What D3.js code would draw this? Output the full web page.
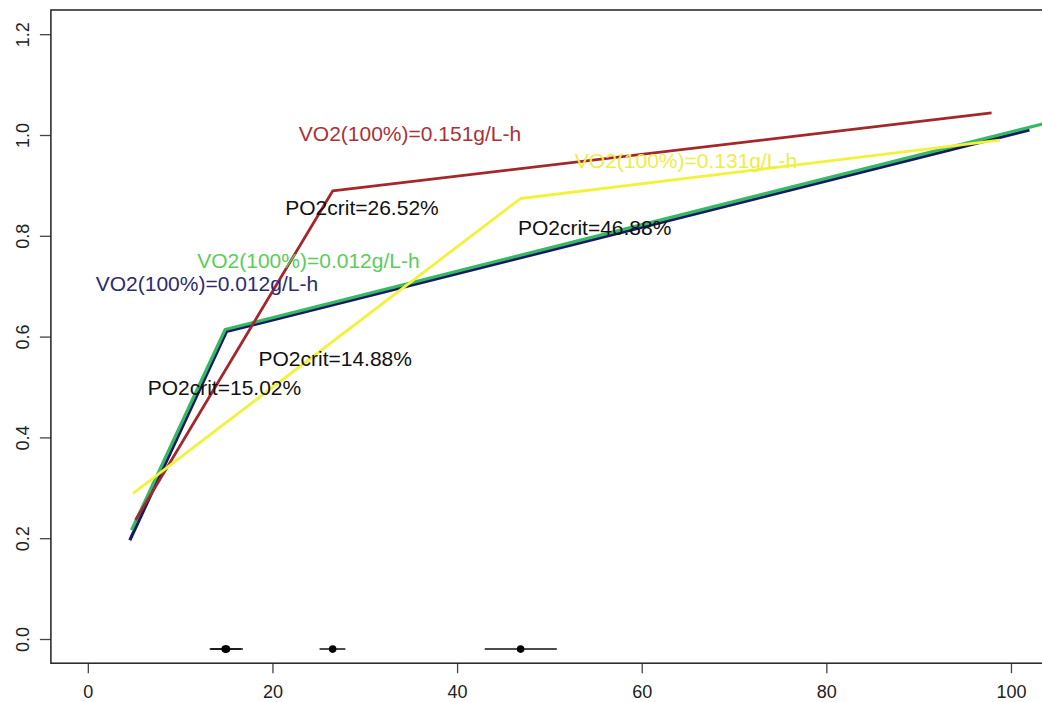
<!DOCTYPE html>
<html>
<head>
<meta charset="utf-8">
<script src="https://cdn.jsdelivr.net/npm/d3@7"></script>
<style>
  html, body { margin: 0; padding: 0; background: #fff; }
  svg { display: block; font-family: "Liberation Sans", Arial, sans-serif; }
</style>
</head>
<body>
<div id="chart"></div>
<script>
// broken-stick fits: start, breakpoint (PO2crit), end
const seriesNames = ["navy", "green", "brown", "yellow"];
const seriesX = [
    [4.55, 15.02, 102.0],
    [4.73, 14.88, 104.5],
    [5.17, 26.52, 97.9],
    [4.91, 46.88, 98.8]
];
const seriesY = [
    [0.196, 0.610, 1.010],
    [0.216, 0.614, 1.027],
    [0.236, 0.889, 1.044],
    [0.289, 0.874, 0.990]
];

// PO2crit estimates with intervals (bottom of plot)
const critMean = [15.02, 14.88, 26.52, 46.88];
const critLow = [13.3, 13.2, 25.1, 43.0];
const critHigh = [16.8, 16.6, 27.9, 50.8];
const critLevel = -0.02;

// annotations
const labelText = [
    "VO2(100%)=0.151g/L-h", "VO2(100%)=0.131g/L-h",
    "PO2crit=26.52%", "PO2crit=46.88%",
    "VO2(100%)=0.012g/L-h", "VO2(100%)=0.012g/L-h",
    "PO2crit=14.88%", "PO2crit=15.02%"
];
const labelX = [34.9, 64.8, 29.7, 54.9, 23.9, 12.9, 26.8, 14.8];
const labelY = [1.002, 0.950, 0.856, 0.816, 0.750, 0.706, 0.557, 0.499];
const labelSeries = ["brown", "yellow", "black", "black", "green", "navy", "black", "black"];

const xTicks = [0, 20, 40, 60, 80, 100];
const yTicks = [0, 0.2, 0.4, 0.6, 0.8, 1.0, 1.2];

const lineColor = { navy: "#161a62", green: "#36b865", brown: "#a3282c", yellow: "#f2f23a" };
const textColor = { navy: "#2b2b6e", green: "#5ccc5c", brown: "#a83238", yellow: "#eded4a", black: "#111" };
const lineWidth = { navy: 3.2, green: 3.2, brown: 2.8, yellow: 2.8 };

const width = 1042, height = 702;
const plotLeft = 50.9, plotRight = 1047.9, plotTop = 10, plotBottom = 663.2;

const x = d3.scaleLinear().domain([-4, 104]).range([plotLeft, plotRight]);
const y = d3.scaleLinear().domain([-0.048, 1.248]).range([plotBottom, plotTop]);

const svg = d3.select("#chart").append("svg")
    .attr("width", width)
    .attr("height", height);

svg.append("clipPath").attr("id", "plot-clip")
    .append("rect")
    .attr("x", plotLeft).attr("y", plotTop)
    .attr("width", plotRight - plotLeft).attr("height", plotBottom - plotTop);

const plot = svg.append("g").attr("clip-path", "url(#plot-clip)");

const line = d3.line().x(d => x(d[0])).y(d => y(d[1]));

// navy under green, then brown, yellow
seriesNames.forEach((name, i) => {
    const pts = seriesX[i].map((v, k) => [v, seriesY[i][k]]);
    plot.append("path")
        .attr("d", line(pts))
        .attr("fill", "none")
        .attr("stroke", lineColor[name])
        .attr("stroke-width", lineWidth[name])
        .attr("stroke-linejoin", "round");
});

// labels
plot.selectAll("text.lab")
    .data(labelText)
    .enter()
    .append("text")
    .attr("class", "lab")
    .attr("x", (d, i) => x(labelX[i]))
    .attr("y", (d, i) => y(labelY[i]) + 7.5)
    .attr("text-anchor", "middle")
    .attr("font-size", 21)
    .attr("fill", (d, i) => textColor[labelSeries[i]])
    .text(d => d);

// PO2crit intervals
const crit = plot.append("g");
critMean.forEach((m, i) => {
    crit.append("line")
        .attr("x1", x(critLow[i])).attr("x2", x(critHigh[i]))
        .attr("y1", y(critLevel)).attr("y2", y(critLevel))
        .attr("stroke", "#111").attr("stroke-width", 1.5);
    crit.append("circle")
        .attr("cx", x(m)).attr("cy", y(critLevel))
        .attr("r", 3.8).attr("fill", "#000");
});

// axes
const xAxis = svg.append("g")
    .attr("transform", `translate(0,${plotBottom})`)
    .call(d3.axisBottom(x).tickValues(xTicks).tickSize(10).tickFormat(d3.format("d")));
xAxis.select(".domain").remove();
xAxis.selectAll(".tick line").attr("stroke", "#444").attr("stroke-width", 1.3);
xAxis.selectAll(".tick text")
    .attr("dy", null)
    .attr("y", 34.6)
    .attr("font-size", 18)
    .attr("font-family", "Liberation Sans, Arial, sans-serif")
    .attr("fill", "#222");

const yAxis = svg.append("g")
    .attr("transform", `translate(${plotLeft},0)`)
    .call(d3.axisLeft(y).tickValues(yTicks).tickSize(11).tickFormat(d3.format(".1f")));
yAxis.select(".domain").remove();
yAxis.selectAll(".tick line").attr("stroke", "#444").attr("stroke-width", 1.3);
yAxis.selectAll(".tick text")
    .attr("dy", null)
    .attr("x", 0)
    .attr("y", -22)
    .attr("transform", "rotate(-90)")
    .attr("text-anchor", "middle")
    .attr("font-size", 18)
    .attr("font-family", "Liberation Sans, Arial, sans-serif")
    .attr("fill", "#222");

// plot frame
svg.append("rect")
    .attr("x", plotLeft).attr("y", plotTop)
    .attr("width", plotRight - plotLeft).attr("height", plotBottom - plotTop)
    .attr("fill", "none")
    .attr("stroke", "#222")
    .attr("stroke-width", 1.5);
</script>
</body>
</html>
